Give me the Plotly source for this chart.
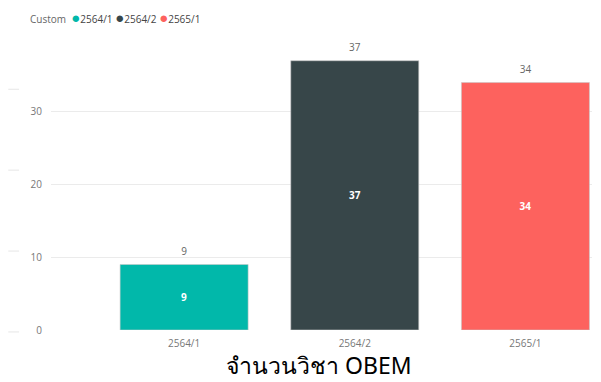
import plotly.graph_objects as go

# Semesters and the number of OBE-mapped courses in each
semesters = ["2564/1", "2564/2", "2565/1"]
course_counts = [9, 37, 34]
bar_colors = ["#01B8AA", "#374649", "#FD625E"]
y_ticks = [0, 10, 20, 30]
chart_title = "จำนวนวิชา OBEM"

LABEL_FONT = "Open Sans, Noto Sans, sans-serif"

fig = go.Figure()

# Bars with the value centred inside
fig.add_trace(go.Bar(
    x=semesters,
    y=course_counts,
    width=0.75,
    marker=dict(color=bar_colors, line=dict(color="rgba(200,200,200,0.6)", width=1)),
    text=[str(v) for v in course_counts],
    textposition="inside",
    insidetextanchor="middle",
    textfont=dict(color="white", size=10, family=LABEL_FONT, weight="bold"),
    showlegend=False,
    hoverinfo="x+y",
))

# Value labels above each bar (invisible marker pushes the text up a little)
fig.add_trace(go.Scatter(
    x=semesters,
    y=course_counts,
    mode="markers+text",
    marker=dict(size=10, opacity=0),
    text=[str(v) for v in course_counts],
    textposition="top center",
    textfont=dict(color="#666666", size=10, family=LABEL_FONT),
    showlegend=False,
    hoverinfo="skip",
    cliponaxis=False,
))

# Compact legend line: "Custom" followed by coloured dots and labels
legend_parts = ["<span style='color:#666666'>Custom</span>  "]
for name, col in zip(semesters, bar_colors):
    legend_parts.append(
        f"<span style='color:{col};font-size:15px'>●</span><span style='color:#444444'>{name}</span> "
    )
fig.add_annotation(
    text="".join(legend_parts),
    xref="paper", yref="paper",
    x=-0.043, y=1.0, yshift=35,
    xanchor="left", yanchor="middle",
    showarrow=False,
    font=dict(size=10, family=LABEL_FONT),
)

# Chart title below the category labels
fig.add_annotation(
    text=chart_title,
    xref="paper", yref="paper",
    x=0.495, y=0, yshift=-35,
    xanchor="center", yanchor="middle",
    showarrow=False,
    font=dict(size=23, color="black", family="Noto Sans, DejaVu Sans, sans-serif"),
)

# Faint marks along the left edge
for yp in [0.866, 0.575, 0.284, -0.007]:
    fig.add_shape(
        type="line", xref="paper", yref="paper",
        x0=-0.079, x1=-0.059, y0=yp, y1=yp,
        line=dict(color="#e6e6e6", width=1),
    )

fig.update_layout(
    width=601,
    height=382,
    margin=dict(l=51, r=9, t=52, b=52),
    paper_bgcolor="white",
    plot_bgcolor="white",
    font=dict(family=LABEL_FONT, color="#777777", size=10),
    xaxis=dict(
        type="category",
        range=[-0.78, 2.39],
        showgrid=False,
        showline=False,
        zeroline=False,
        ticks="",
        ticklabelstandoff=6,
        automargin=False,
        tickfont=dict(size=10, color="#777777"),
    ),
    yaxis=dict(
        range=[0, 38.2],
        tickvals=y_ticks,
        showgrid=True,
        gridcolor="#ebebeb",
        gridwidth=1,
        zeroline=False,
        showline=False,
        ticks="",
        ticklabelstandoff=8,
        automargin=False,
        tickfont=dict(size=10, color="#777777"),
    ),
)

fig.write_html("out.html")
